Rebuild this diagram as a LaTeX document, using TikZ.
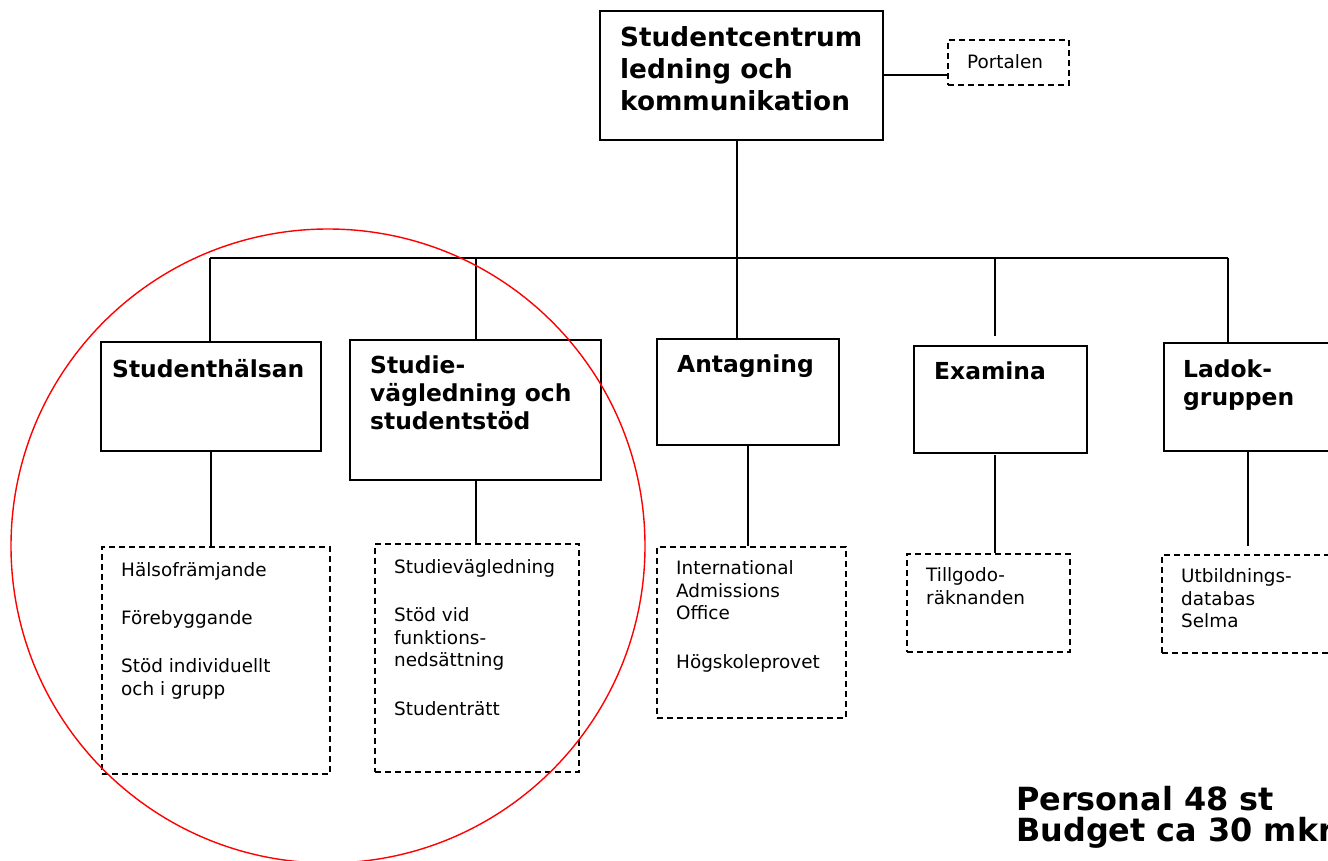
\documentclass[tikz,border=0pt]{standalone}
\usepackage{fontspec}
\setmainfont{DejaVu Sans}
\newcommand\myfs[2]{\fontsize{#1}{#2}\selectfont}
\begin{document}
\begin{tikzpicture}[x=1pt,y=-1pt,
  box/.style={draw=black, line width=2pt, anchor=north west, inner sep=0pt},
  dbox/.style={draw=black, line width=1.6pt, dash pattern=on 6pt off 4pt, anchor=north west, inner sep=0pt},
  conn/.style={draw=black, line width=1.6pt},
  bigtxt/.style={anchor=base west, inner sep=0pt, align=left, font=\bfseries\myfs{26.3}{31.7}},
  midtxt/.style={anchor=base west, inner sep=0pt, align=left, font=\bfseries\myfs{23.4}{28}},
  smalltxt/.style={anchor=base west, inner sep=0pt, align=left, font=\myfs{18.4}{22.3}},
  foottxt/.style={anchor=base west, inner sep=0pt, align=left, font=\bfseries\myfs{31.9}{31.7}}
]
\fill[white] (0,0) rectangle (1328,860);
\useasboundingbox (0,0) rectangle (1328,860);

% top (multi-line nodes are placed by the baseline of their last line)
\node[box, minimum width=283pt, minimum height=129pt] (top) at (599,10) {};
\node[bigtxt] (ttop) at (620,110) {Studentcentrum\\ledning och\\kommunikation};
\node[dbox, minimum width=121pt, minimum height=45pt] (portal) at (947,39) {};
\node[smalltxt] (tportal) at (967,68) {Portalen};
\coordinate (pl) at (947,75);
\draw[conn] (top.east |- pl) -- (pl);

% second level boxes
\node[box, minimum width=220pt, minimum height=109pt] (hals) at (100,341) {};
\node[midtxt] (thals) at (112,377.5) {Studenthälsan};
\node[box, minimum width=251pt, minimum height=140pt] (stud) at (349,339) {};
\node[midtxt] (tstud) at (370,429.3) {Studie-\\vägledning och\\studentstöd};
\node[box, minimum width=182pt, minimum height=106pt] (ant) at (656,338) {};
\node[midtxt] (tant) at (677,372.7) {Antagning};
\node[box, minimum width=173pt, minimum height=107pt] (exa) at (913,345) {};
\node[midtxt] (texa) at (934,379) {Examina};
\node[box, minimum width=180pt, minimum height=108pt] (lad) at (1163,342) {};
\node[midtxt] (tlad) at (1183,405) {Ladok-\\gruppen};

% bus
\coordinate (bus) at (737,258);
\coordinate (t1) at (210,258);
\coordinate (t2) at (476,258);
\coordinate (t4) at (995,258);
\coordinate (e4) at (995,336);
\coordinate (t5) at (1228,258);
\draw[conn] (top.south -| bus) -- (bus);
\draw[conn] (t1) -- (t5);
\draw[conn] (t1) -- (t1 |- hals.north);
\draw[conn] (t2) -- (t2 |- stud.north);
\draw[conn] (bus) -- (bus |- ant.north);
\draw[conn] (t4) -- (e4);
\draw[conn] (t5) -- (t5 |- lad.north);

% dashed boxes
\node[dbox, minimum width=228pt, minimum height=227pt] (d1) at (101,546) {};
\node[smalltxt] (td1) at (121,695) {Hälsofrämjande\\[26pt]Förebyggande\\[26pt]Stöd individuellt\\och i grupp};
\node[dbox, minimum width=204pt, minimum height=228pt] (d2) at (374,543) {};
\node[smalltxt] (td2) at (394,715.7) {Studievägledning\\[26.5pt]Stöd vid\\funktions-\\nedsättning\\[27pt]Studenträtt};
\node[dbox, minimum width=189pt, minimum height=171pt] (d3) at (656,546) {};
\node[smalltxt] (td3) at (676,668.3) {International\\Admissions\\Office\\[26.5pt]Högskoleprovet};
\node[dbox, minimum width=163pt, minimum height=98pt] (d4) at (906,553) {};
\node[smalltxt] (td4) at (926,604) {Tillgodo-\\räknanden};
\node[dbox, minimum width=180pt, minimum height=98pt] (d5) at (1161,554) {};
\node[smalltxt] (td5) at (1181,627.3) {Utbildnings-\\databas\\Selma};

% vertical connectors to dashed boxes
\coordinate (s2) at (476,479);
\coordinate (s4) at (995,455);
\coordinate (e5) at (1248,546);
\draw[conn] (hals.south) -- (hals.south |- d1.north);
\draw[conn] (s2 |- stud.south) -- (s2 |- d2.north);
\draw[conn] (ant.south) -- (ant.south |- d3.north);
\draw[conn] (s4) -- (s4 |- d4.north);
\draw[conn] (e5 |- lad.south) -- (e5);

% red circle
\draw[red, line width=1.4pt] (328,546) circle[radius=317pt];

% footer
\node[foottxt] (foot) at (1016,841.7) {Personal 48 st\\Budget ca 30 mkr};
\end{tikzpicture}
\end{document}
